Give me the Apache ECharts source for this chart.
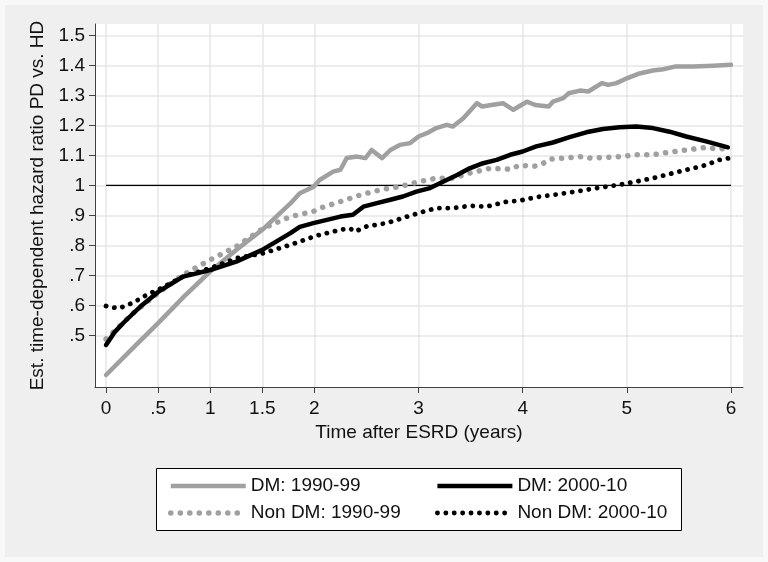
<!DOCTYPE html>
<html>
<head>
<meta charset="utf-8">
<script src="https://cdn.jsdelivr.net/npm/echarts@6/dist/echarts.min.js"></script>
<style>html,body{margin:0;padding:0;background:#f7f7f7}#c{width:768px;height:562px}</style>
</head>
<body>
<div id="c"></div>
<script>
// ---- data ----
const dm9099 = [[0,0.368],[0.25,0.455],[0.5,0.541],[0.75,0.630],[1.0,0.713],[1.25,0.785],[1.5,0.852],[1.77,0.94],[1.86,0.974],[1.99,0.995],[2.05,1.018],[2.18,1.046],[2.25,1.052],[2.31,1.091],[2.41,1.096],[2.49,1.091],[2.55,1.118],[2.65,1.091],[2.73,1.118],[2.82,1.135],[2.92,1.141],[3.0,1.163],[3.08,1.174],[3.17,1.191],[3.27,1.202],[3.33,1.196],[3.43,1.224],[3.56,1.274],[3.61,1.263],[3.7,1.268],[3.81,1.274],[3.91,1.252],[4.04,1.279],[4.12,1.268],[4.25,1.263],[4.29,1.279],[4.39,1.291],[4.44,1.307],[4.55,1.316],[4.63,1.313],[4.76,1.341],[4.82,1.335],[4.9,1.341],[5.0,1.357],[5.11,1.372],[5.25,1.383],[5.35,1.387],[5.46,1.396],[5.64,1.396],[5.83,1.399],[6.0,1.402]];
const dm0010 = [[0,0.468],[0.08,0.51],[0.17,0.543],[0.26,0.573],[0.33,0.596],[0.5,0.645],[0.74,0.696],[1.0,0.718],[1.25,0.746],[1.5,0.785],[1.77,0.841],[1.86,0.862],[1.99,0.874],[2.12,0.885],[2.25,0.896],[2.37,0.902],[2.47,0.929],[2.6,0.941],[2.73,0.952],[2.85,0.963],[2.98,0.979],[3.11,0.991],[3.24,1.013],[3.37,1.035],[3.49,1.057],[3.62,1.074],[3.75,1.085],[3.88,1.102],[4.0,1.113],[4.13,1.13],[4.29,1.143],[4.45,1.161],[4.61,1.177],[4.77,1.188],[4.93,1.194],[5.09,1.196],[5.25,1.191],[5.41,1.179],[5.57,1.163],[5.77,1.146],[5.97,1.127]];
const nondm9099 = [[0,0.488],[0.26,0.574],[0.5,0.641],[0.74,0.702],[1.0,0.752],[1.25,0.796],[1.51,0.857],[1.77,0.896],[1.99,0.913],[2.05,0.924],[2.25,0.946],[2.44,0.968],[2.63,0.985],[2.82,0.996],[3.01,1.013],[3.17,1.024],[3.33,1.024],[3.49,1.041],[3.69,1.057],[3.89,1.054],[3.97,1.068],[4.1,1.063],[4.17,1.068],[4.26,1.087],[4.39,1.091],[4.58,1.096],[4.65,1.091],[4.77,1.093],[4.93,1.096],[5.09,1.102],[5.25,1.102],[5.38,1.109],[5.57,1.118],[5.77,1.127],[5.86,1.121],[6.0,1.125]];
const nondm0010 = [[0,0.598],[0.12,0.59],[0.18,0.598],[0.26,0.609],[0.39,0.635],[0.5,0.652],[0.74,0.696],[1.0,0.724],[1.25,0.757],[1.51,0.774],[1.77,0.802],[1.86,0.813],[1.99,0.829],[2.05,0.835],[2.25,0.852],[2.34,0.857],[2.39,0.846],[2.5,0.863],[2.69,0.874],[2.89,0.896],[3.05,0.913],[3.17,0.924],[3.33,0.924],[3.49,0.932],[3.65,0.929],[3.85,0.946],[3.97,0.949],[4.13,0.961],[4.29,0.968],[4.45,0.976],[4.61,0.985],[4.77,0.994],[4.93,1.002],[5.09,1.013],[5.25,1.024],[5.41,1.038],[5.57,1.052],[5.73,1.065],[5.89,1.085],[6.0,1.092]];
const refLine = [[0,1],[6,1]];
const xTicks = [0,0.5,1,1.5,2,3,4,5,6];
const yTicks = [0.5,0.6,0.7,0.8,0.9,1,1.1,1.2,1.3,1.4,1.5];
const seriesNames = ['DM: 1990-99','DM: 2000-10','Non DM: 1990-99','Non DM: 2000-10'];

const fmt = v => { const s = String(+v.toFixed(2)); return s.startsWith('0.') ? s.slice(1) : s; };
const FONT = 'Liberation Sans, Arial, sans-serif';
const GRAY = '#a0a0a0';
const axisCol = '#404040';
const gridCol = '#e6e6e6';

const styles = [
  {color: GRAY, width: 4.5, cap: 'round', join: 'round'},
  {color: '#000', width: 4.5, cap: 'round', join: 'round'},
  {color: GRAY, width: 5.5, type: [0.1, 9.4], cap: 'round'},
  {color: '#000', width: 4.8, type: [0.1, 8.3], cap: 'round'}
];
const legendItem = i => ({name: seriesNames[i],
  lineStyle: Object.assign({}, styles[i], styles[i].type ? {} : {cap: 'butt'}),
  itemStyle: {opacity: 0}});
const legendBase = {orient: 'vertical', top: 471, itemWidth: 75, itemHeight: 14, itemGap: 7,
  itemStyle: {opacity: 0},
  textStyle: {fontSize: 19, lineHeight: 20, fontFamily: FONT, color: '#111'}};

const chart = echarts.init(document.getElementById('c'));
chart.setOption({
  backgroundColor: '#efefef',
  animation: false,
  textStyle: {fontFamily: FONT, color: '#111'},
  graphic: [
    {type: 'rect', z: -10, silent: true, shape: {x: 0, y: 0, width: 768, height: 562}, style: {fill: 'none', stroke: '#f8f8f8', lineWidth: 10}},
    {type: 'rect', z: 0, silent: true, shape: {x: 156.5, y: 468.5, width: 525, height: 62}, style: {fill: '#fff', stroke: '#000', lineWidth: 1}}
  ],
  grid: {left: 95, right: 25, top: 24, bottom: 175, show: true, backgroundColor: '#fff', borderWidth: 0},
  xAxis: {
    type: 'value', min: -0.106, max: 6.115,
    name: 'Time after ESRD (years)', nameLocation: 'middle', nameGap: 32,
    nameTextStyle: {fontSize: 19, fontFamily: FONT, color: '#111'},
    axisLine: {show: true, onZero: false, lineStyle: {color: axisCol, width: 1}},
    axisTick: {show: true, length: 6, customValues: xTicks, lineStyle: {color: axisCol}},
    axisLabel: {customValues: xTicks, fontSize: 19, margin: 12, color: '#111', formatter: fmt},
    splitLine: {show: true, lineStyle: {color: gridCol, width: 1.5}}
  },
  yAxis: {
    type: 'value', min: 0.328, max: 1.538,
    name: 'Est. time-dependent hazard ratio PD vs. HD', nameLocation: 'middle', nameGap: 48,
    nameTextStyle: {fontSize: 19, fontFamily: FONT, color: '#111'},
    axisLine: {show: true, onZero: false, lineStyle: {color: axisCol, width: 1}},
    axisTick: {show: true, length: 6, customValues: yTicks, lineStyle: {color: axisCol}},
    axisLabel: {customValues: yTicks, fontSize: 19, margin: 10, color: '#111', formatter: fmt},
    splitLine: {show: true, lineStyle: {color: gridCol, width: 1.5}}
  },
  legend: [
    Object.assign({left: 163, data: [legendItem(0), legendItem(2)]}, legendBase),
    Object.assign({left: 430, data: [legendItem(1), legendItem(3)]}, legendBase)
  ],
  series: [
    {name: 'ref', type: 'line', data: refLine, symbol: 'none', silent: true, z: 1,
     lineStyle: {color: '#000', width: 1.3}, itemStyle: {color: '#000'}},
    {name: seriesNames[0], type: 'line', data: dm9099, symbol: 'none', z: 3, lineStyle: styles[0], itemStyle: {color: GRAY}},
    {name: seriesNames[1], type: 'line', data: dm0010, symbol: 'none', z: 5, lineStyle: styles[1], itemStyle: {color: '#000'}},
    {name: seriesNames[2], type: 'line', data: nondm9099, symbol: 'none', z: 4, lineStyle: styles[2], itemStyle: {color: GRAY}},
    {name: seriesNames[3], type: 'line', data: nondm0010, symbol: 'none', z: 6, lineStyle: styles[3], itemStyle: {color: '#000'}}
  ]
});
</script>
</body>
</html>
